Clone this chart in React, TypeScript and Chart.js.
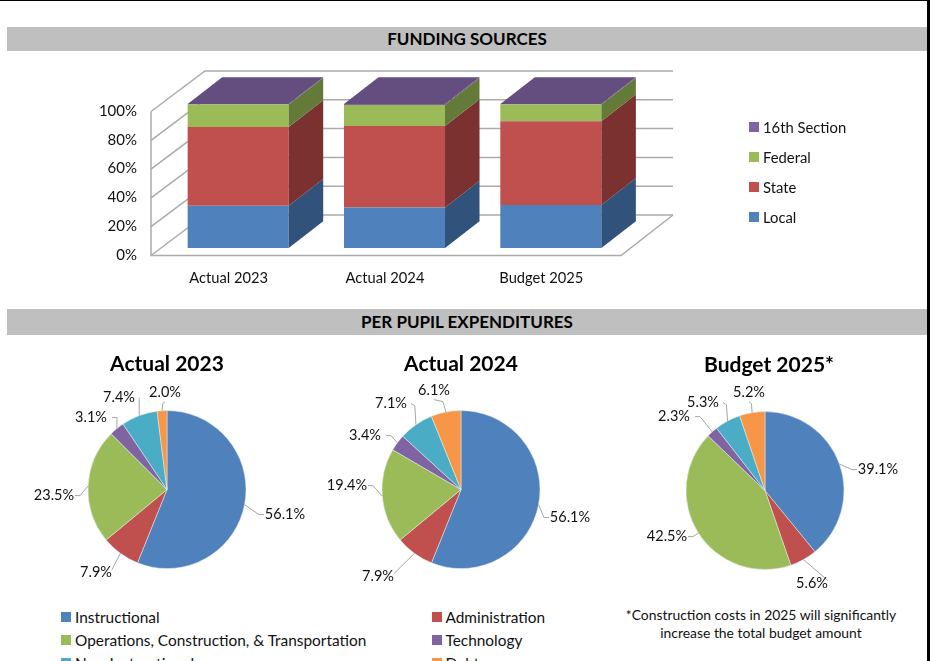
import React, { useEffect, useRef } from "react";
import { Chart, registerables } from "chart.js";

Chart.register(...registerables);

const FONT = "Lato, 'Open Sans', sans-serif";
const years = ["Actual 2023", "Actual 2024", "Budget 2025"];
const seriesNames = ["Local", "State", "Federal", "16th Section"];
const local = [29.4, 28.2, 29.9];
const state = [54.6, 56.5, 58.1];
const federal = [15.7, 14.6, 11.6];
const sixteenth = [0.3, 0.7, 0.4];
const yTicks = [0, 20, 40, 60, 80, 100];

const barColors = ["#4F81BD", "#C0504D", "#9BBB59", "#8064A2"];
const sideColors = ["#31527A", "#7B3130", "#647A39", "#644E80"];

const expenseNames = [
  "Instructional",
  "Administration",
  "Operations, Construction, & Transportation",
  "Technology",
  "Non-Instructional",
  "Debt",
];
const pieColors = ["#4F81BD", "#C0504D", "#9BBB59", "#8064A2", "#4BACC6", "#F79646"];
const pie2023 = [56.1, 7.9, 23.5, 3.1, 7.4, 2.0];
const pie2024 = [56.1, 7.9, 19.4, 3.4, 7.1, 6.1];
const pie2025 = [39.1, 5.6, 42.5, 2.3, 5.3, 5.2];
const pieTitles = ["Actual 2023", "Actual 2024", "Budget 2025*"];

// label centres relative to the pie centre
const labelSpots2023 = [[118, 25], [-71, 83], [-113, 6], [-76, -72], [-48, -92], [-2, -97]];
const labelSpots2024 = [[109, 28], [-83, 87], [-114, -4], [-96, -54], [-70, -86], [-27, -99]];
const labelSpots2025 = [[113, -21], [47, 93], [-98, 46], [-91, -74], [-62, -88], [-16, -98]];

const wallDepth = { x: 54, y: -40.5 };
const barDepth = { x: 34.5, y: -26.7 };
const axisShift = { x: -37, y: 7.5 };

const wallPlugin = {
  id: "wall",
  beforeDatasetsDraw(chart: any) {
    const { ctx, scales } = chart;
    const yS = scales.y;
    const left = chart.chartArea.left + axisShift.x + 28;
    const right = chart.chartArea.right - 8;
    const farRight = left + 522;
    ctx.save();
    ctx.strokeStyle = "#ABABAB";
    ctx.lineWidth = 1.5;
    yTicks.forEach((t) => {
      const y = yS.getPixelForValue(t) + axisShift.y;
      ctx.beginPath();
      ctx.moveTo(left, y);
      ctx.lineTo(left + wallDepth.x, y + wallDepth.y);
      ctx.lineTo(farRight, y + wallDepth.y);
      ctx.stroke();
    });
    const y0 = yS.getPixelForValue(0) + axisShift.y;
    const y100 = yS.getPixelForValue(100) + axisShift.y;
    ctx.beginPath();
    ctx.moveTo(left, y100);
    ctx.lineTo(left, y0);
    ctx.lineTo(right, y0);
    ctx.lineTo(farRight, y0 + wallDepth.y);
    ctx.stroke();
    ctx.restore();
  },
  afterDatasetsDraw(chart: any) {
    const { ctx } = chart;
    ctx.save();
    chart.data.datasets.forEach((_: any, di: number) => {
      const meta = chart.getDatasetMeta(di);
      meta.data.forEach((bar: any) => {
        const half = bar.width / 2;
        const xr = bar.x + half;
        const xl = bar.x - half;
        ctx.fillStyle = sideColors[di];
        ctx.beginPath();
        ctx.moveTo(xr, bar.y);
        ctx.lineTo(xr + barDepth.x, bar.y + barDepth.y);
        ctx.lineTo(xr + barDepth.x, bar.base + barDepth.y);
        ctx.lineTo(xr, bar.base);
        ctx.closePath();
        ctx.fill();
        if (di === chart.data.datasets.length - 1) {
          ctx.fillStyle = sideColors[di];
          ctx.beginPath();
          ctx.moveTo(xl, bar.y);
          ctx.lineTo(xl + barDepth.x, bar.y + barDepth.y);
          ctx.lineTo(xr + barDepth.x, bar.y + barDepth.y);
          ctx.lineTo(xr, bar.y);
          ctx.closePath();
          ctx.fill();
        }
      });
    });
    ctx.restore();
  },
};

const leaderPlugin = {
  id: "leaders",
  afterLayout(chart: any, _a: any, opts: any) {
    const t = chart.titleBlock;
    if (t && opts.titleShift) {
      t.left += opts.titleShift;
      t.right += opts.titleShift;
    }
  },
  afterDatasetsDraw(chart: any, _a: any, opts: any) {
    const { ctx } = chart;
    const meta = chart.getDatasetMeta(0);
    const values = chart.data.datasets[0].data;
    meta.data.forEach((arc: any, i: number) => {
      const mid = (arc.startAngle + arc.endAngle) / 2;
      const r = arc.outerRadius;
      const sx = arc.x + Math.cos(mid) * r;
      const sy = arc.y + Math.sin(mid) * r;
      const [dx, dy] = opts.spots[i];
      const lx = arc.x + dx;
      const ly = arc.y + dy;
      const side = Math.abs(dx) > Math.abs(dy);
      ctx.save();
      ctx.strokeStyle = "#A6A6A6";
      ctx.lineWidth = 1;
      ctx.beginPath();
      ctx.moveTo(sx, sy);
      if (side) {
        const ex = lx + (dx > 0 ? -21 : 21);
        const ex2 = lx + (dx > 0 ? -26 : 26);
        ctx.lineTo(ex2, ly);
        ctx.lineTo(ex, ly);
      } else if (dy < 0) {
        const ex = dx < -40 ? lx + 20 : lx + 0;
        const ey = dx < -40 ? ly : ly + 9;
        ctx.lineTo(sx + (ex - sx) * 0.25, ey + 2);
        ctx.lineTo(ex, ey);
      } else {
        ctx.lineTo(lx + 16, ly - 3);
      }
      ctx.stroke();
      ctx.fillStyle = "#111";
      ctx.font = `14.5px ${FONT}`;
      ctx.textAlign = "center";
      ctx.textBaseline = "middle";
      ctx.fillText(values[i].toFixed(1) + "%", lx, ly);
      ctx.restore();
    });
  },
};

function BarChart() {
  const ref = useRef<HTMLCanvasElement>(null);
  useEffect(() => {
    const chart = new Chart(ref.current!, {
      type: "bar",
      data: {
        labels: years,
        datasets: [local, state, federal, sixteenth].map((d, i) => ({
          label: seriesNames[i],
          data: d,
          backgroundColor: barColors[i],
          barPercentage: 0.8,
          categoryPercentage: 0.808,
        })),
      },
      options: {
        responsive: false,
        animation: false,
        layout: { padding: { top: 52, left: 0, right: 298, bottom: 0 } },
        plugins: { legend: { display: false }, tooltip: { enabled: false } },
        scales: {
          x: {
            stacked: true,
            grid: { display: false },
            border: { display: false },
            afterFit: (s: any) => { s.height = 59; },
            ticks: { color: "#111", font: { family: FONT, size: 14.7 }, labelOffset: -9.5, padding: 13, maxRotation: 0 },
          },
          y: {
            stacked: true,
            min: 0,
            max: 100,
            grid: { display: false },
            border: { display: false },
            afterFit: (s: any) => { s.width = 160; },
            afterBuildTicks: (s: any) => { s.ticks = yTicks.map((v) => ({ value: v })); },
            ticks: { color: "#111", font: { family: FONT, size: 15 }, labelOffset: 7, padding: 15, callback: (v: any) => v + "%" },
          },
        },
      },
      plugins: [wallPlugin],
    } as any);
    return () => chart.destroy();
  }, []);
  return <canvas ref={ref} width={927} height={255} style={{ position: "absolute", left: 0, top: 52 }} />;
}

function PieChart({ values, title, spots, left, top, titleShift }: any) {
  const ref = useRef<HTMLCanvasElement>(null);
  useEffect(() => {
    const chart = new Chart(ref.current!, {
      type: "pie",
      data: {
        labels: expenseNames,
        datasets: [{ data: values, backgroundColor: pieColors, borderColor: "#E8EEF5", borderWidth: 0.5, radius: 79 }],
      },
      options: {
        responsive: false,
        animation: false,
        plugins: {
          legend: { display: false },
          tooltip: { enabled: false },
          title: { display: true, text: title, color: "#000", font: { family: FONT, size: 21, weight: "bold" }, padding: { top: 0, bottom: 0 } },
          leaders: { spots, titleShift },
        },
      },
      plugins: [leaderPlugin],
    } as any);
    return () => chart.destroy();
  }, []);
  return <canvas ref={ref} width={300} height={250} style={{ position: "absolute", left, top }} />;
}

const headerStyle = (top: number, height: number): React.CSSProperties => ({
  position: "absolute", left: 7, top, width: 920, height, background: "#BFBFBF", lineHeight: height + "px",
  textAlign: "center", fontWeight: 700, fontSize: 17, color: "#000",
});

const legendItem = (name: string, color: string, left: number, top: number, size: number, fs: number, gap: number) => (
  <div key={name} style={{ position: "absolute", left, top, whiteSpace: "nowrap", fontSize: fs, color: "#111", lineHeight: "20px", display: "flex", alignItems: "center" }}>
    <span style={{ display: "inline-block", width: size, height: size, background: color, marginRight: gap }} />
    {name}
  </div>
);

export default function App() {
  return (
    <div style={{ position: "fixed", left: 0, top: 0, width: 930, height: 661, overflow: "hidden", background: "#fff", fontFamily: FONT }}>
      <div style={{ position: "absolute", left: 0, top: 0, width: 930, height: 1, background: "#000" }} />
      <div style={{ position: "absolute", left: 927, top: 0, width: 3, height: 661, background: "#000" }} />
      <div style={headerStyle(27, 24)}>FUNDING SOURCES</div>
      <div style={headerStyle(309, 26)}>PER PUPIL EXPENDITURES</div>
      <BarChart />
      {seriesNames.map((n, i) => legendItem(n, barColors[i], 749, 207 - i * 30, 10, 14.8, 4))}
      <PieChart values={pie2023} title={pieTitles[0]} spots={labelSpots2023} left={17} top={352} titleShift={0} />
      <PieChart values={pie2024} title={pieTitles[1]} spots={labelSpots2024} left={311} top={352} titleShift={0} />
      <PieChart values={pie2025} title={pieTitles[2]} spots={labelSpots2025} left={615} top={353} titleShift={4} />
      {expenseNames.map((n, i) => legendItem(n, pieColors[i], i % 2 ? 431.5 : 61, 607 + Math.floor(i / 2) * 23, 10, 15.4, 4))}
      <div style={{ position: "absolute", left: 600, top: 606, width: 322, textAlign: "center", fontSize: 13.9, lineHeight: "18px", color: "#111" }}>
        *Construction costs in 2025 will significantly<br />increase the total budget amount
      </div>
    </div>
  );
}
